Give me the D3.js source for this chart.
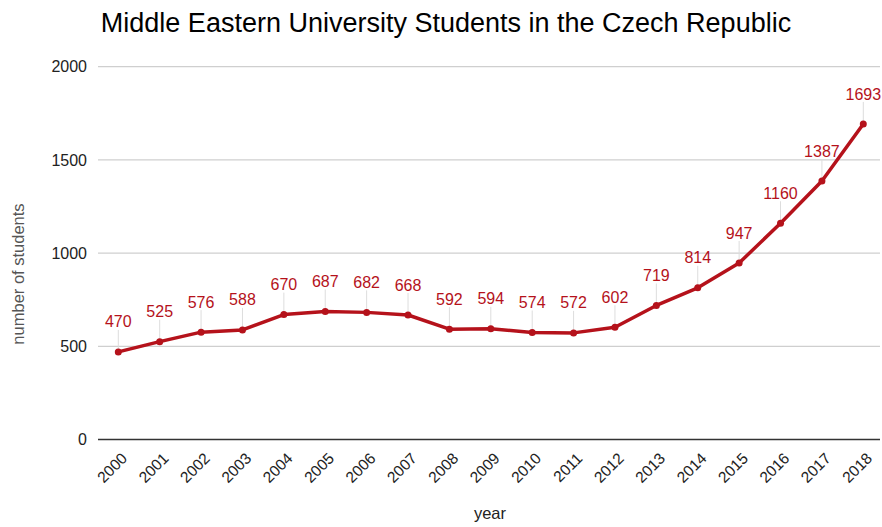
<!DOCTYPE html>
<html><head><meta charset="utf-8">
<script src="https://cdn.jsdelivr.net/npm/d3@7"></script>
<style>body{margin:0;background:#fff;} text{font-family:"Liberation Sans",Arial,sans-serif;}</style>
</head><body>
<svg id="c" width="882" height="527"></svg>
<script>
const years = ["2000","2001","2002","2003","2004","2005","2006","2007","2008","2009","2010","2011","2012","2013","2014","2015","2016","2017","2018"];
const students = [470,525,576,588,670,687,682,668,592,594,574,572,602,719,814,947,1160,1387,1693];
const yTicks = [0,500,1000,1500,2000];

const svg = d3.select("#c");
const x = d3.scalePoint().domain(years).range([118.3, 863.3]);
const y = d3.scaleLinear().domain([0,2000]).range([439.5, 66.7]);

svg.append("text").attr("x",446).attr("y",32).attr("text-anchor","middle")
  .attr("font-size",27).attr("fill","#000").text("Middle Eastern University Students in the Czech Republic");

// gridlines
svg.append("g").selectAll("line").data(yTicks.filter(d=>d>0)).join("line")
  .attr("x1",98).attr("x2",880).attr("y1",d=>y(d)).attr("y2",d=>y(d))
  .attr("stroke","#cfcfcf").attr("stroke-width",1.3);
svg.append("line").attr("x1",98).attr("x2",880).attr("y1",y(0)).attr("y2",y(0))
  .attr("stroke","#333").attr("stroke-width",1.6);

// y tick labels
svg.append("g").selectAll("text").data(yTicks).join("text")
  .attr("x",87).attr("y",d=>y(d)).attr("dy","0.35em").attr("text-anchor","end")
  .attr("font-size",16).attr("fill","#222").text(d=>d);

// y title
svg.append("text").attr("transform","translate(24,274) rotate(-90)").attr("text-anchor","middle")
  .attr("font-size",16.5).attr("fill","#555").text("number of students");

// x tick labels
svg.append("g").selectAll("text").data(years).join("text")
  .attr("transform",d=>`translate(${x(d)+6},${y(0)+16}) rotate(-45)`).attr("text-anchor","end")
  .attr("dy","0.35em").attr("font-size",15.5).attr("fill","#222").text(d=>d);

svg.append("text").attr("x",490).attr("y",519).attr("text-anchor","middle")
  .attr("font-size",16.5).attr("fill","#222").text("year");

// leader lines
svg.append("g").selectAll("line").data(students).join("line")
  .attr("x1",(d,i)=>x(years[i])).attr("x2",(d,i)=>x(years[i]))
  .attr("y1",d=>y(d)).attr("y2",d=>y(d)-22)
  .attr("stroke","#ddd").attr("stroke-width",1);

// line
svg.append("path").datum(students)
  .attr("d",d3.line().x((d,i)=>x(years[i])).y(d=>y(d)))
  .attr("fill","none").attr("stroke","#b5121b").attr("stroke-width",3.5).attr("stroke-linejoin","round");
svg.append("g").selectAll("circle").data(students).join("circle")
  .attr("cx",(d,i)=>x(years[i])).attr("cy",d=>y(d)).attr("r",3.5).attr("fill","#b5121b");

// data labels
svg.append("g").selectAll("text").data(students).join("text")
  .attr("x",(d,i)=>x(years[i])).attr("y",d=>y(d)-30).attr("dy","0.35em").attr("text-anchor","middle")
  .attr("font-size",16).attr("fill","#b5121b").text(d=>d);
</script>
</body></html>
